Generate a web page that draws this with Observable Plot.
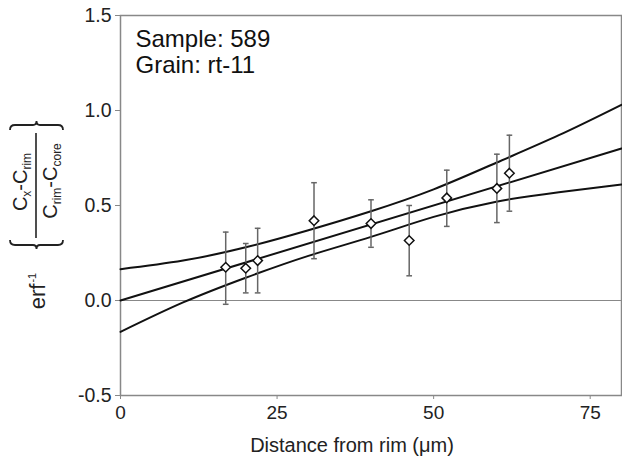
<!DOCTYPE html>
<html>
<head>
<meta charset="utf-8">
<script src="https://cdn.jsdelivr.net/npm/d3@7"></script>
<script src="https://cdn.jsdelivr.net/npm/@observablehq/plot@0.6"></script>
<style>
  html, body { margin: 0; padding: 0; background: #fff; }
  #chart svg { display: block; }
</style>
</head>
<body>
<div id="chart"></div>
<script>
// --- data ---
const distance = [16.8, 20.0, 21.9, 30.9, 40.0, 46.1, 52.1, 60.1, 62.1];
const value    = [0.175, 0.17, 0.21, 0.42, 0.405, 0.316, 0.54, 0.59, 0.67];
const errLow   = [-0.02, 0.04, 0.04, 0.22, 0.28, 0.13, 0.39, 0.41, 0.47];
const errHigh  = [0.36, 0.30, 0.38, 0.62, 0.53, 0.50, 0.686, 0.77, 0.87];

const fitX     = [0, 80];
const fitY     = [0, 0.80];
const bandX    = [0, 10, 20, 30, 40, 50, 60, 70, 80];
const bandUp   = [0.165, 0.21, 0.28, 0.37, 0.47, 0.585, 0.725, 0.87, 1.03];
const bandLow  = [-0.165, -0.01, 0.12, 0.235, 0.335, 0.44, 0.52, 0.57, 0.61];

const xTicks = [0, 25, 50, 75];
const yTicks = [-0.5, 0.0, 0.5, 1.0, 1.5];
const annotation = ["Sample: 589", "Grain: rt-11"];
const xLabel = "Distance from rim (\u03bcm)";

// --- tables built from arrays ---
const points = distance.map((d, i) => ({x: d, y: value[i], lo: errLow[i], hi: errHigh[i]}));
const fit = fitX.map((d, i) => ({x: d, y: fitY[i]}));
const upper = bandX.map((d, i) => ({x: d, y: bandUp[i]}));
const lower = bandX.map((d, i) => ({x: d, y: bandLow[i]}));

const FONT = "'Liberation Sans', Arial, Helvetica, sans-serif";

const hline = {
  draw(ctx, size) {
    const w = Math.sqrt(size) / 2;
    ctx.moveTo(-w, 0);
    ctx.lineTo(w, 0);
  }
};

const yFmt = d => d3.format(".1f")(d).replace("\u2212", "-");

const chart = Plot.plot({
  width: 622,
  height: 460,
  marginLeft: 120,
  marginRight: 1,
  marginTop: 15,
  marginBottom: 65,
  style: {fontFamily: FONT, fontSize: "19px", color: "#222", background: "#fff"},
  x: {domain: [0, 80], ticks: xTicks, label: null},
  y: {domain: [-0.5, 1.5], ticks: yTicks, label: null},
  marks: [
    Plot.ruleY([0], {stroke: "#888", strokeWidth: 1}),
    Plot.frame({stroke: "#888", strokeWidth: 1.5}),
    Plot.axisX({ticks: xTicks, tickSize: 4, tickPadding: 6, stroke: "#888", fill: "#222", fontSize: 19, tickFormat: d => d3.format("d")(d), label: null}),
    Plot.axisY({ticks: yTicks, tickSize: 5, tickPadding: 4, stroke: "#888", fill: "#222", fontSize: 19.5, tickFormat: yFmt, label: null}),
    Plot.line(upper, {x: "x", y: "y", curve: "natural", stroke: "#111", strokeWidth: 2}),
    Plot.line(lower, {x: "x", y: "y", curve: "natural", stroke: "#111", strokeWidth: 2}),
    Plot.line(fit, {x: "x", y: "y", stroke: "#111", strokeWidth: 2}),
    Plot.ruleX(points, {x: "x", y1: "lo", y2: "hi", stroke: "#666", strokeWidth: 1.5}),
    Plot.dot(points, {x: "x", y: "lo", symbol: hline, r: 3.2, stroke: "#666", strokeWidth: 1.5}),
    Plot.dot(points, {x: "x", y: "hi", symbol: hline, r: 3.2, stroke: "#666", strokeWidth: 1.5}),
    Plot.dot(points, {x: "x", y: "y", symbol: "diamond2", r: 4.3, fill: "#fff", stroke: "#111", strokeWidth: 1.5}),
    Plot.text([annotation.join("\n")], {frameAnchor: "top-left", textAnchor: "start", lineAnchor: "top", dx: 15, dy: 13, fontSize: 24, lineHeight: 1.08, fill: "#111"})
  ]
});

document.getElementById("chart").appendChild(chart);

// --- axis titles ---
const svg = d3.select(chart);
svg.append("text")
  .attr("x", 352).attr("y", 452)
  .attr("text-anchor", "middle")
  .attr("font-family", FONT).attr("font-size", 20).attr("fill", "#222")
  .text(xLabel);

// rotated y label: local (u, v) -> screen (v, -u)
const g = svg.append("g").attr("transform", "rotate(-90)")
  .attr("font-family", FONT).attr("fill", "#222");

const erf = g.append("text").attr("x", -291).attr("y", 45).attr("font-size", 22);
erf.append("tspan").text("erf");
erf.append("tspan").attr("font-size", 11).attr("dy", -9).attr("dx", 1).text("-1");

// braces
const brace = (uEnd, dir) => {
  // dir = -1 opening (cusp toward smaller u), +1 closing
  const uLine = uEnd + dir * 5, uCusp = uEnd + dir * 9;
  return `M${uEnd},10 Q${uLine},10 ${uLine},15 L${uLine},33 Q${uLine},36.5 ${uCusp},36.5 Q${uLine},36.5 ${uLine},40 L${uLine},58 Q${uLine},63 ${uEnd},63`;
};
g.append("path").attr("d", brace(-240, -1)).attr("fill", "none").attr("stroke", "#222").attr("stroke-width", 1.8);
g.append("path").attr("d", brace(-130, 1)).attr("fill", "none").attr("stroke", "#222").attr("stroke-width", 1.8);

// fraction bar
g.append("line").attr("x1", -238).attr("x2", -133).attr("y1", 36).attr("y2", 36)
  .attr("stroke", "#222").attr("stroke-width", 1.6);

// numerator
const num = g.append("text").attr("x", -182).attr("y", 27).attr("text-anchor", "middle").attr("font-size", 20);
num.append("tspan").text("C");
num.append("tspan").attr("font-size", 12).attr("dy", 4).text("x");
num.append("tspan").attr("dy", -4).text("-C");
num.append("tspan").attr("font-size", 12).attr("dy", 4).text("rim");

// denominator
const den = g.append("text").attr("x", -181).attr("y", 57).attr("text-anchor", "middle").attr("font-size", 20);
den.append("tspan").text("C");
den.append("tspan").attr("font-size", 12).attr("dy", 4).text("rim");
den.append("tspan").attr("dy", -4).text("-C");
den.append("tspan").attr("font-size", 12).attr("dy", 4).text("core");
</script>
</body>
</html>
